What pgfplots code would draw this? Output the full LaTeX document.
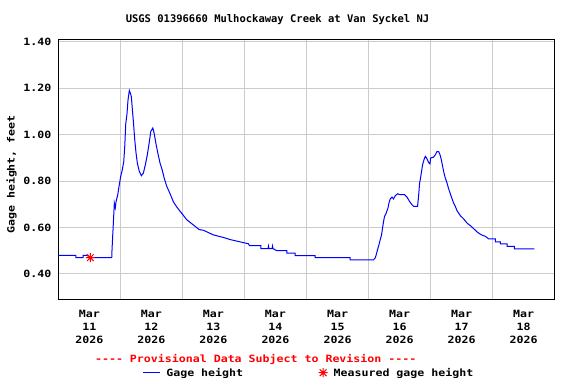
\documentclass[border=0pt]{standalone}
\usepackage{pgfplots}
\pgfplotsset{compat=1.18}
\usepackage{fontspec}
\setmainfont{DejaVu Sans Mono}[FakeStretch=1.16, Ligatures=TeXOff]
\newfontfamily\titlefont{DejaVu Sans Mono}[Ligatures=TeXOff]
\pgfdeclareplotmark{ast8}{%
  \pgfpathmoveto{\pgfqpoint{-\pgfplotmarksize}{0pt}}\pgfpathlineto{\pgfqpoint{\pgfplotmarksize}{0pt}}%
  \pgfpathmoveto{\pgfqpoint{0pt}{-\pgfplotmarksize}}\pgfpathlineto{\pgfqpoint{0pt}{\pgfplotmarksize}}%
  \pgfpathmoveto{\pgfqpoint{-0.75\pgfplotmarksize}{-0.75\pgfplotmarksize}}\pgfpathlineto{\pgfqpoint{0.75\pgfplotmarksize}{0.75\pgfplotmarksize}}%
  \pgfpathmoveto{\pgfqpoint{-0.75\pgfplotmarksize}{0.75\pgfplotmarksize}}\pgfpathlineto{\pgfqpoint{0.75\pgfplotmarksize}{-0.75\pgfplotmarksize}}%
  \pgfusepathqstroke}
\pgfplotstableread{
d v
0 0.48
0.285 0.48
0.285 0.47
0.40 0.47
0.40 0.48
0.48 0.48
0.48 0.47
0.861 0.47
0.866 0.505
0.877 0.565
0.894 0.655
0.903 0.705
0.919 0.685
0.931 0.712
0.958 0.741
0.979 0.777
1.006 0.82
1.032 0.849
1.055 0.884
1.071 0.949
1.087 1.046
1.108 1.092
1.124 1.15
1.145 1.19
1.161 1.178
1.177 1.164
1.194 1.107
1.210 1.056
1.232 0.978
1.253 0.92
1.274 0.877
1.306 0.841
1.339 0.823
1.371 0.834
1.403 0.87
1.435 0.913
1.468 0.97
1.490 1.013
1.523 1.028
1.544 1.006
1.577 0.956
1.610 0.913
1.640 0.877
1.673 0.849
1.706 0.813
1.748 0.777
1.802 0.745
1.855 0.71
1.910 0.688
1.965 0.669
2.016 0.652
2.071 0.633
2.124 0.622
2.205 0.605
2.269 0.591
2.339 0.588
2.500 0.568
2.661 0.557
2.769 0.548
2.931 0.538
3.065 0.530
3.081 0.522
3.265 0.522
3.265 0.509
3.380 0.509
3.387 0.52
3.395 0.509
3.445 0.509
3.452 0.52
3.460 0.509
3.523 0.50
3.684 0.50
3.684 0.49
3.818 0.49
3.818 0.479
4.140 0.479
4.140 0.47
4.705 0.47
4.705 0.461
5.081 0.461
5.108 0.469
5.124 0.483
5.145 0.505
5.168 0.526
5.189 0.548
5.210 0.569
5.226 0.598
5.242 0.626
5.258 0.648
5.285 0.662
5.313 0.684
5.329 0.705
5.350 0.723
5.377 0.731
5.403 0.723
5.431 0.737
5.468 0.745
5.511 0.741
5.581 0.741
5.619 0.731
5.661 0.712
5.700 0.698
5.726 0.691
5.790 0.691
5.806 0.734
5.823 0.791
5.834 0.806
5.850 0.834
5.871 0.870
5.894 0.892
5.915 0.906
5.935 0.899
5.968 0.880
5.990 0.874
6.000 0.899
6.048 0.903
6.077 0.913
6.103 0.927
6.129 0.927
6.152 0.913
6.173 0.892
6.194 0.863
6.216 0.834
6.237 0.813
6.265 0.791
6.290 0.767
6.318 0.745
6.345 0.724
6.371 0.705
6.398 0.691
6.426 0.672
6.452 0.662
6.479 0.651
6.532 0.637
6.587 0.619
6.640 0.608
6.694 0.595
6.748 0.581
6.813 0.569
6.882 0.562
6.935 0.551
7.044 0.551
7.044 0.538
7.124 0.538
7.124 0.529
7.232 0.529
7.232 0.519
7.350 0.519
7.350 0.508
7.673 0.508
}\gage
\pgfplotstableread{
d v
0.516 0.47
}\meas
\begin{document}
\begin{tikzpicture}
\path[use as bounding box] (0,0) rectangle (576bp,384bp);
\begin{axis}[
  at={(58.3bp,84.5bp)}, anchor=south west,
  scale only axis, width=496.4bp, height=260.2bp,
  xmin=0, xmax=8, ymin=0.29, ymax=1.41,
  axis line style={black, line width=1bp},
  major tick length=0pt, minor tick length=0pt,
  xtick={0.5,1.5,2.5,3.5,4.5,5.5,6.5,7.5},
  xticklabels={{Mar\\11\\2026},{Mar\\12\\2026},{Mar\\13\\2026},{Mar\\14\\2026},{Mar\\15\\2026},{Mar\\16\\2026},{Mar\\17\\2026},{Mar\\18\\2026}},
  minor xtick={1,2,3,4,5,6,7},
  xminorgrids=true, xmajorgrids=false, ymajorgrids=true,
  grid style={draw=gray!40, line width=1bp},
  minor grid style={draw=gray!40, line width=1bp},
  ytick={0.4,0.6,0.8,1.0,1.2,1.4},
  /pgf/number format/assume math mode=true,
  yticklabel={\pgfmathprintnumber[fixed,fixed zerofill,precision=2]{\tick}},
  tick label style={font=\fontsize{10bp}{13.3bp}\selectfont\bfseries},
  xticklabel style={align=center, yshift=-7bp},
  yticklabel style={xshift=-3.5bp},
  legend columns=2,
  legend style={draw=none, fill=none, inner sep=0pt, outer sep=0pt,
    at={(axis description cs:0.1692,-0.2813)}, anchor=west,
    font=\fontsize{10bp}{12bp}\selectfont\bfseries,
    nodes={inner sep=0pt},
    /tikz/every odd column/.append style={column sep=6bp},
    /tikz/every even column/.append style={column sep=75.5bp}},
]
\addplot[blue, line width=1bp, no marks] table[x=d,y=v] {\gage};
\addlegendentry{Gage height}
\addplot[red, only marks, mark=ast8, mark size=4.5bp, line width=1bp] table[x=d,y=v] {\meas};
\addlegendentry{Measured gage height}
\end{axis}
\node[font=\titlefont\bfseries\fontsize{10.5bp}{12bp}\selectfont] at (277.5bp,364bp) {USGS 01396660 Mulhockaway Creek at Van Syckel NJ};
\node[rotate=90, font=\fontsize{10bp}{12bp}\selectfont\bfseries] at (11.7bp,209.5bp) {Gage height, feet};
\node[red, font=\fontsize{10bp}{12bp}\selectfont\bfseries] at (255.7bp,25bp) {---- Provisional Data Subject to Revision ----};
\end{tikzpicture}
\end{document}
